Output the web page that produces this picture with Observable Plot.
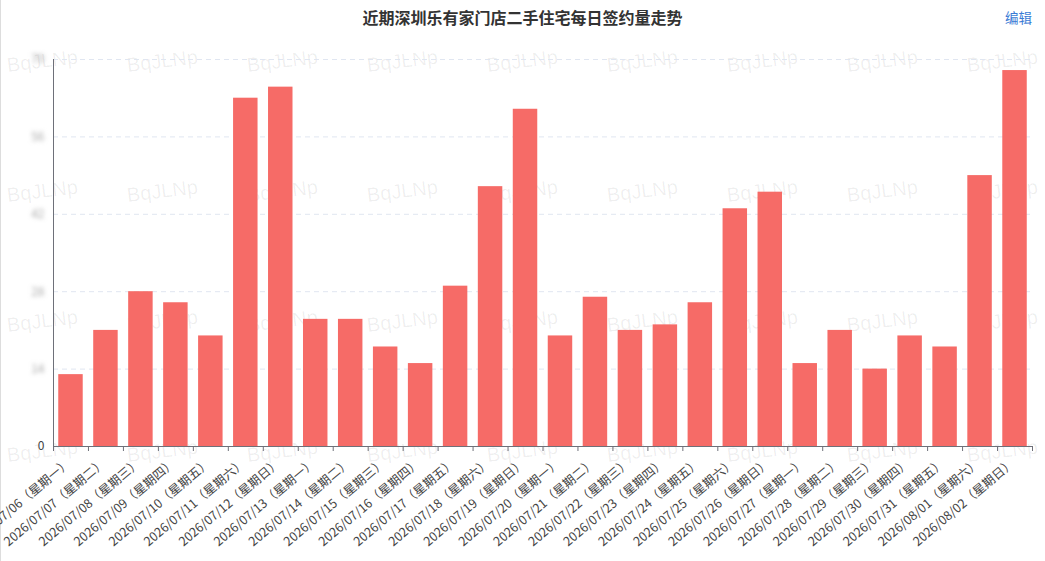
<!DOCTYPE html>
<html><head><meta charset="utf-8">
<script src="https://cdn.jsdelivr.net/npm/d3@7"></script>
<script src="https://cdn.jsdelivr.net/npm/@observablehq/plot@0.6"></script>
<style>
body{margin:0;background:#fff;font-family:"Noto Sans CJK SC","Noto Sans",sans-serif;}
#wrap{position:relative;width:1045px;height:561px;overflow:hidden;}
#title{position:absolute;top:5px;left:0;width:1045px;text-align:center;font-size:16px;font-weight:bold;color:#333;line-height:24px;}
#edit{position:absolute;top:6px;right:13px;font-size:13.5px;color:#3a7bd5;line-height:22px;}
#lb{position:absolute;left:0;top:0;width:1px;height:561px;background:#ddd;}
.wm{position:absolute;font-family:"Liberation Sans",Arial,sans-serif;font-size:20px;color:rgba(0,0,0,0.065);transform:rotate(-7deg);transform-origin:left center;white-space:nowrap;line-height:20px;z-index:0;}
#chart{position:absolute;left:0;top:36px;z-index:1;}
</style>
</head><body>
<div id="wrap">
  <div id="lb"></div>
  <div id="title">近期深圳乐有家门店二手住宅每日签约量走势</div>
  <div id="edit">编辑</div>
  <div id="chart"></div>
</div>
<script>
const dates = [
  "2026/07/06（星期一）","2026/07/07（星期二）","2026/07/08（星期三）","2026/07/09（星期四）",
  "2026/07/10（星期五）","2026/07/11（星期六）","2026/07/12（星期日）","2026/07/13（星期一）",
  "2026/07/14（星期二）","2026/07/15（星期三）","2026/07/16（星期四）","2026/07/17（星期五）",
  "2026/07/18（星期六）","2026/07/19（星期日）","2026/07/20（星期一）","2026/07/21（星期二）",
  "2026/07/22（星期三）","2026/07/23（星期四）","2026/07/24（星期五）","2026/07/25（星期六）",
  "2026/07/26（星期日）","2026/07/27（星期一）","2026/07/28（星期二）","2026/07/29（星期三）",
  "2026/07/30（星期四）","2026/07/31（星期五）","2026/08/01（星期六）","2026/08/02（星期日）"
];
const values = [13,21,28,26,20,63,65,23,23,18,15,29,47,61,20,27,21,22,26,43,46,15,21,14,20,18,49,68];
const yTicks = [0,14,28,42,56,70];
const watermark = "BqJLNp";

// watermark layer (decoration)
const wrap = document.getElementById("wrap");
for (let r = 0; r < 4; r++) {
  for (let c = 0; c < 9; c++) {
    const s = document.createElement("div");
    s.className = "wm";
    s.textContent = watermark;
    s.style.left = (7 + 120 * c) + "px";
    s.style.top = (55 + 130 * r) + "px";
    wrap.appendChild(s);
  }
}

const W = 1045, H = 525, ml = 53, mr = 13;
const step = (W - ml - mr) / dates.length;
const table = dates.map((d, i) => ({date: d, value: values[i]}));

const chart = Plot.plot({
  width: W, height: H,
  marginTop: 23, marginBottom: 115, marginLeft: ml, marginRight: mr,
  style: {background: "transparent", fontFamily: '"Noto Sans CJK SC","Noto Sans",sans-serif', fontSize: "12px", color: "#444", overflow: "visible"},
  x: {domain: dates, paddingInner: 0.3, paddingOuter: 0.15, round: false, label: null},
  y: {domain: [0, 70], label: null},
  marks: [
    Plot.gridY(yTicks, {stroke: "#e0e6f1", strokeOpacity: 1, strokeDasharray: "5,4"}),
    Plot.barY(table, {x: "date", y: "value", fill: "#f66b67"}),
    Plot.ruleY([0], {stroke: "#6e7079"}),
    Plot.ruleX([dates[0]], {y1: 0, y2: 70, dx: -step / 2, stroke: "#6e7079"}),
    Plot.axisY(yTicks, {tickSize: 0, tickPadding: 9, fill: "#444"}),
    Plot.axisX({tickSize: 0, tickRotate: -40, tickPadding: 15, fontSize: 12.5, dx: -2, fill: "#444"}),
    Plot.axisX({tickSize: 5, tickFormat: () => "", dx: -step / 2, stroke: "#6e7079"}),
    Plot.axisX([dates[dates.length - 1]], {tickSize: 5, tickFormat: () => "", dx: step / 2, stroke: "#6e7079"})
  ]
});
document.getElementById("chart").appendChild(chart);

// blur the non-zero y tick labels as in the reference
const ns = "http://www.w3.org/2000/svg";
const defs = document.createElementNS(ns, "defs");
defs.innerHTML = '<filter id="blurY" x="-50%" y="-50%" width="200%" height="200%"><feGaussianBlur stdDeviation="2.2"/></filter>';
chart.insertBefore(defs, chart.firstChild);
chart.querySelectorAll('g[aria-label="y-axis tick label"] text').forEach(t => {
  if (t.textContent.trim() !== "0") {
    t.setAttribute("filter", "url(#blurY)");
    t.setAttribute("fill", "#aaa");
  }
});
</script>
</body></html>
